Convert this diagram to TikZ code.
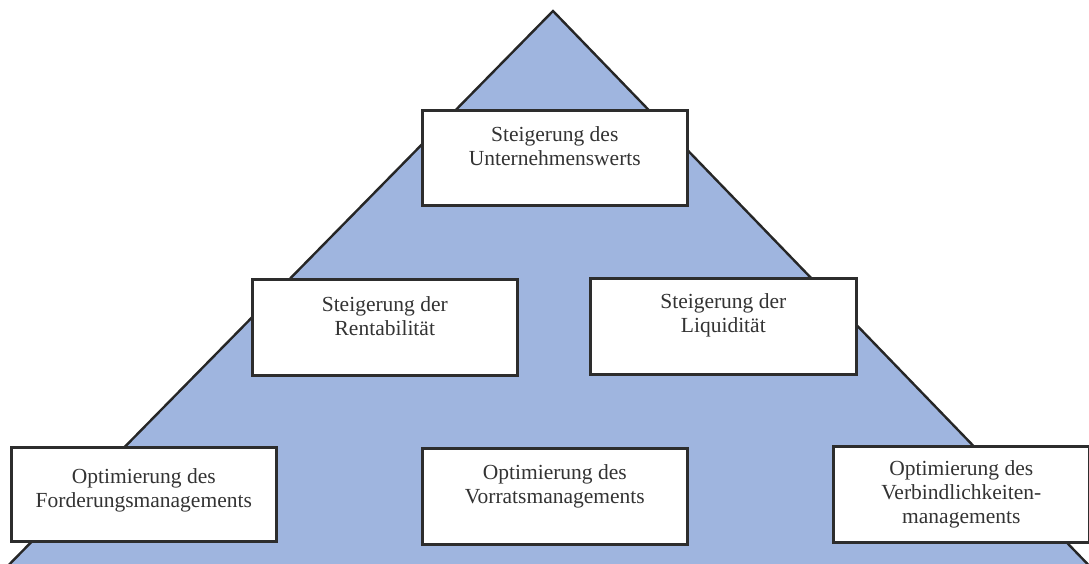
\documentclass[tikz,border=0pt]{standalone}
\usepackage{fontspec}
\setmainfont{Liberation Serif}
\definecolor{pyrfill}{RGB}{159,181,223}
\definecolor{boxline}{RGB}{45,45,45}
\definecolor{txt}{RGB}{51,51,51}
\begin{document}
\begin{tikzpicture}[x=1pt,y=-1pt,
  box/.style={draw=boxline,line width=2.6pt,fill=white,rectangle,inner sep=0pt,anchor=north west},
  lbl/.style={align=center,text=txt,inner sep=0pt,font=\fontsize{21.5}{24}\selectfont}]
\useasboundingbox (0,0) rectangle (1089,564);
\begin{scope}
\clip (0,0) rectangle (1089,564);
\draw[fill=pyrfill,draw=black!85,line width=2.4pt,line join=miter] (553,11) -- (1103,580) -- (-6,580) -- cycle;
\end{scope}
\node[box,minimum width=265pt,minimum height=95pt] (top) at (421,109) {};
\node[lbl] (toptxt) at ([yshift=11.5pt]top.center) {Steigerung des\\Unternehmenswerts};
\node[box,minimum width=265pt,minimum height=96pt] (rent) at (251,278) {};
\node[lbl] (renttxt) at ([yshift=11pt]rent.center) {Steigerung der\\Rentabilität};
\node[box,minimum width=266pt,minimum height=96pt] (liq) at (589,277) {};
\node[lbl] (liqtxt) at ([yshift=11pt]liq.center) {Steigerung der\\Liquidität};
\node[box,minimum width=265pt,minimum height=94pt] (ford) at (10,446) {};
\node[lbl] (fordtxt) at ([yshift=4pt]ford.center) {Optimierung des\\Forderungsmanagements};
\node[box,minimum width=265pt,minimum height=96pt] (vor) at (421,447) {};
\node[lbl] (vortxt) at ([yshift=10pt]vor.center) {Optimierung des\\Vorratsmanagements};
\node[box,minimum width=256pt,minimum height=96pt] (verb) at (832,445) {};
\node[lbl] (verbtxt) at (verb.center) {Optimierung des\\Verbindlichkeiten-\\managements};
\end{tikzpicture}
\end{document}
